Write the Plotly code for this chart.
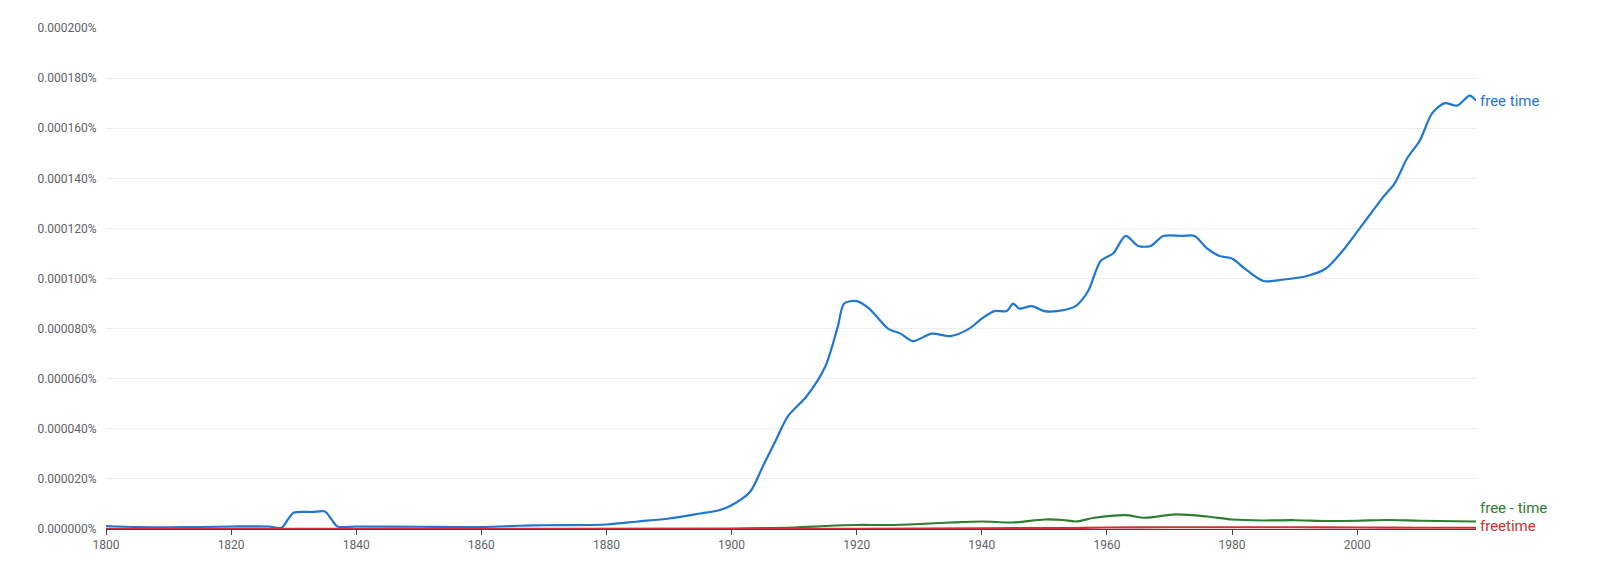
import plotly.graph_objects as go

blue_years = [1800,1805,1810,1815,1820,1826,1828,1829,1830,1833,1835,1836,1837,1840,1850,1860,1866,1870,1880,1885,1890,1895,1898,1900,1903,1905,1907,1909,1912,1915,1917,1918,1920,1922,1925,1927,1929,1932,1935,1938,1940,1942,1944,1945,1946,1948,1950,1952,1955,1957,1959,1961,1963,1965,1967,1969,1972,1974,1976,1978,1980,1982,1985,1988,1992,1995,1998,2001,2004,2006,2008,2010,2012,2014,2016,2018,2019]
blue_vals = [1.2,0.8,0.7,0.8,1.0,1.0,0.4,3.5,6.5,6.8,7.0,4.0,1.0,1.0,0.9,0.8,1.3,1.5,1.8,3.0,4.2,6.2,7.5,9.5,15,25,35,45,53,65,81,90,91,88,80,78,75,78,77,80,84,87,87,90,88,89,87,87,89,95,107,110,117,113,113,117,117,117,112,109,108,104,99,99.5,101,104,112,122,132,138,148,155,166,170,169,173,171]
blue_vals = [v*1e-6 for v in blue_vals]

green_years = [1800,1850,1900,1910,1915,1920,1925,1930,1935,1940,1945,1950,1953,1955,1958,1963,1966,1971,1976,1980,1985,1990,1995,2000,2005,2010,2019]
green_vals = [0.1,0.1,0.2,0.6,1.2,1.6,1.6,2.0,2.6,3.0,2.6,3.8,3.6,3.0,4.5,5.5,4.5,5.8,5.0,3.8,3.4,3.5,3.2,3.3,3.6,3.3,3.0]
green_vals = [v*1e-6 for v in green_vals]

red_years = [1800,1900,1920,1940,1955,1960,1970,1980,1990,2000,2010,2019]
red_vals = [0.0,0.0,0.1,0.3,0.4,0.6,0.7,0.7,0.7,0.6,0.5,0.5]
red_vals = [v*1e-6 for v in red_vals]

y_ticks = [i*2e-5 for i in range(11)]
y_labels = [f"{v:.6f}%" for v in y_ticks]

series = [("free time", blue_years, blue_vals, "#1f77d0"),
          ("free - time", green_years, green_vals, "#2e7d32"),
          ("freetime", red_years, red_vals, "#d32f2f")]

fig = go.Figure()
for name, xs, ys, c in series:
    fig.add_trace(go.Scatter(x=xs, y=ys, mode="lines", name=name,
                             line=dict(color=c, width=2.2, shape="spline", smoothing=0.8)))

ann_y = {"free time": 171e-6, "free - time": 8.4e-6, "freetime": 1.2e-6}
for name, xs, ys, c in series:
    fig.add_annotation(x=xs[-1], y=ann_y[name], text=name, showarrow=False,
                       xanchor="left", xshift=2, font=dict(color=c, size=15, family="Roboto"))

fig.update_layout(
    width=1618, height=574, showlegend=False,
    margin=dict(l=98, r=150, t=20, b=53),
    plot_bgcolor="white", paper_bgcolor="white",
    font=dict(family="Roboto", color="#5f6368", size=12),
    xaxis=dict(range=[1800, 2019], tickvals=list(range(1800, 2020, 20)),
               showgrid=False, showline=True, linecolor="#444", ticks="outside",
               ticklen=5, tickcolor="#444", zeroline=False),
    yaxis=dict(range=[0, 0.0002], tickvals=y_ticks, ticktext=y_labels,
               gridcolor="#eeeeee", zeroline=False,
               ticks="outside", ticklen=6, tickcolor="#ffffff", showline=False),
)
fig.write_html("out.html")
